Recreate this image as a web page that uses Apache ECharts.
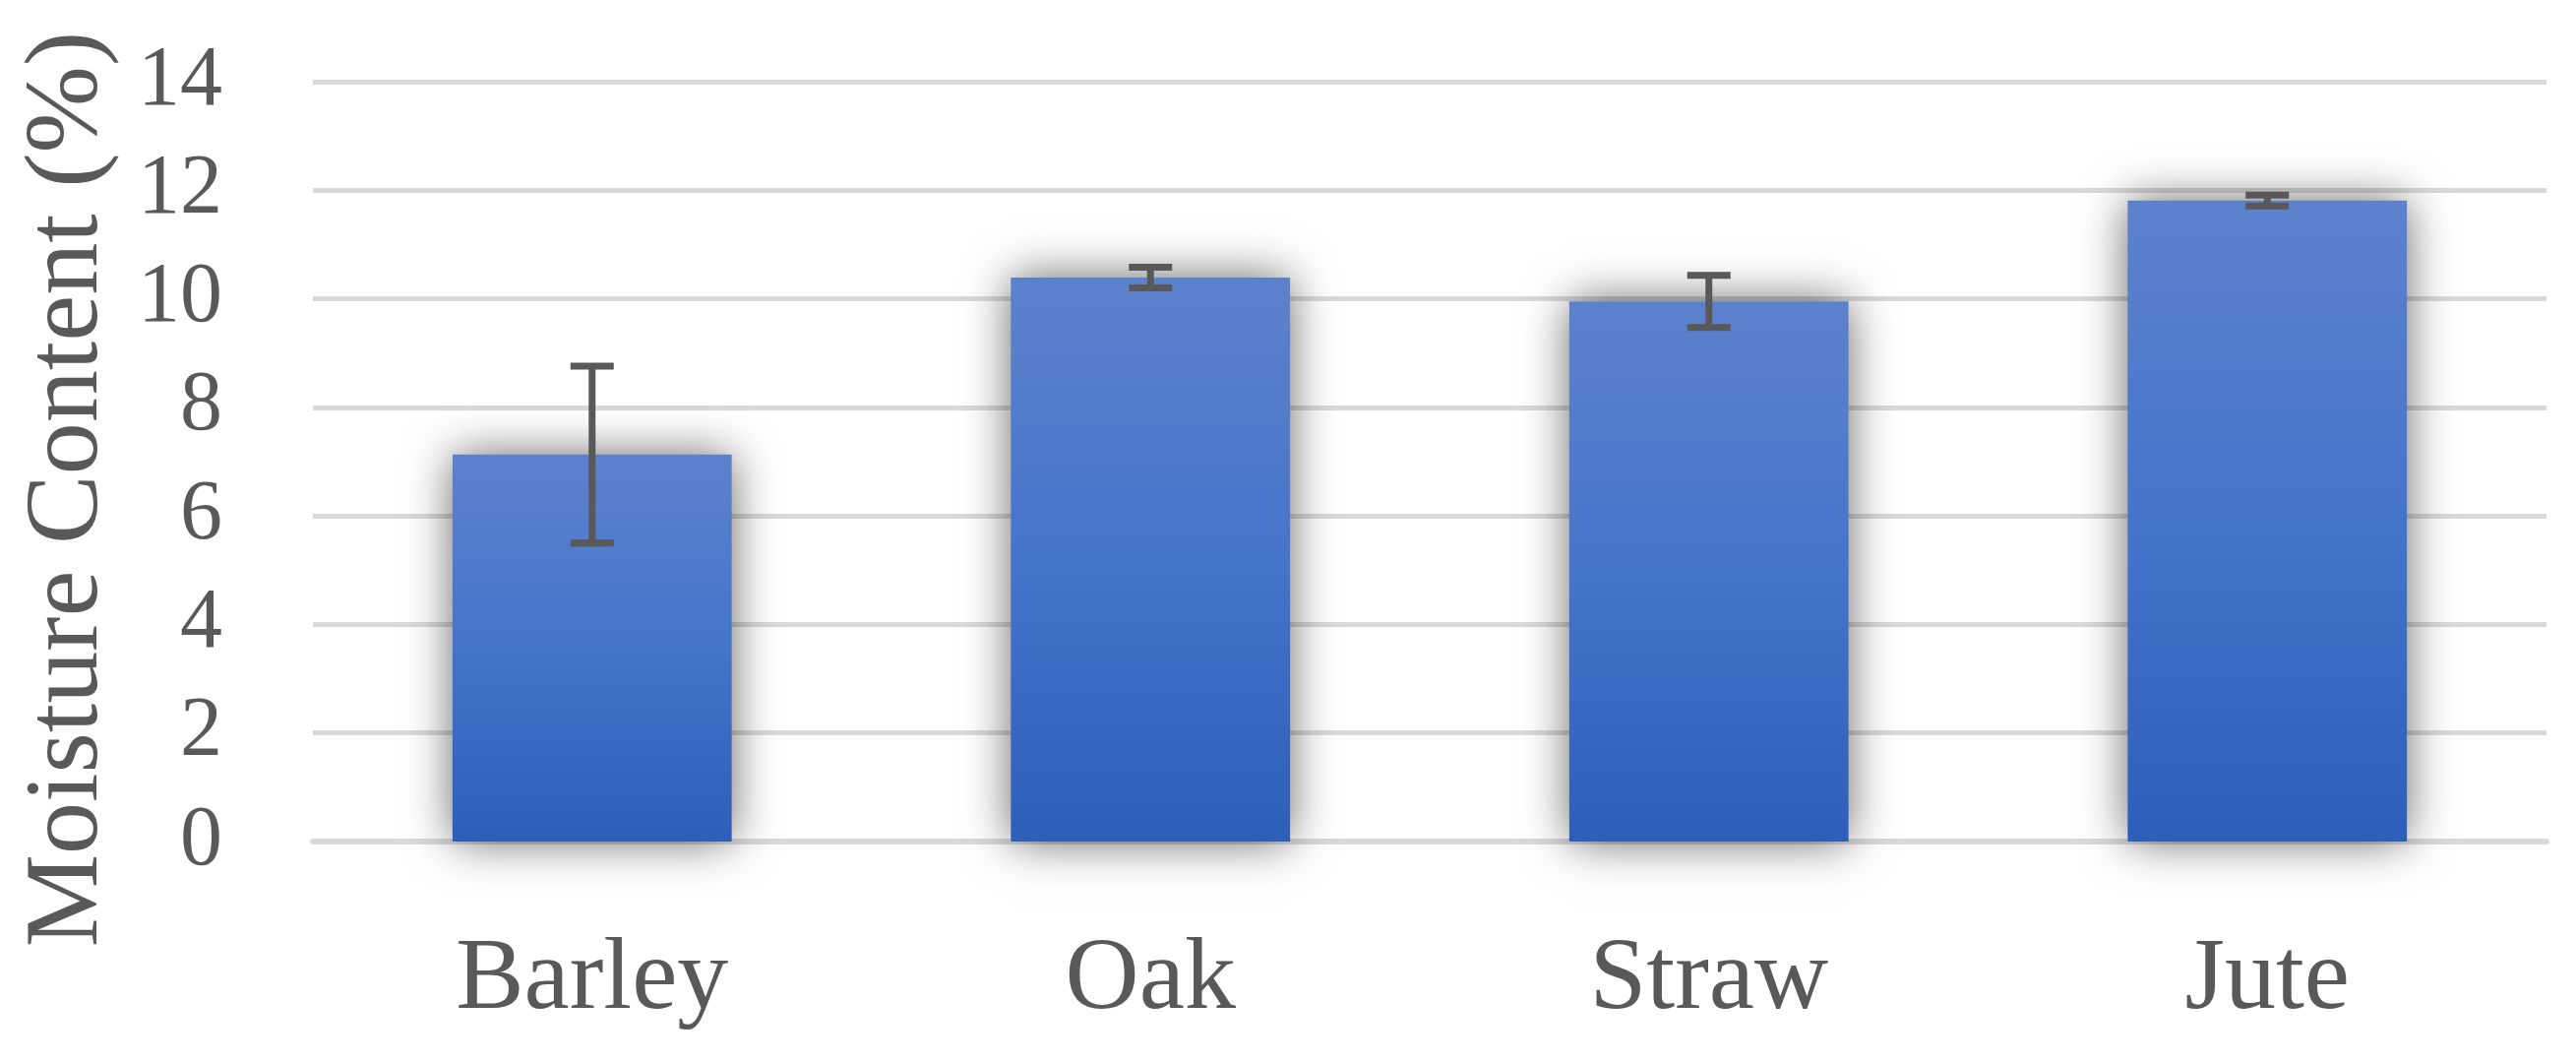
<!DOCTYPE html>
<html>
<head>
<meta charset="utf-8">
<script src="https://cdn.jsdelivr.net/npm/echarts@6/dist/echarts.min.js"></script>
<style>
html,body{margin:0;padding:0;background:#fff;}
#chart{width:2618px;height:1080px;}
</style>
</head>
<body>
<div id="chart"></div>
<script>
var categories = ['Barley', 'Oak', 'Straw', 'Jute'];
var moisture = [7.13, 10.39, 9.95, 11.81];
var errors = [1.63, 0.19, 0.48, 0.10];
var yTicks = [0, 2, 4, 6, 8, 10, 12, 14];
var yTitle = 'Moisture Content (%)';

var FONT = '"Liberation Serif", "DejaVu Serif", serif';
var TXT = '#595959';

var chart = echarts.init(document.getElementById('chart'));

var errData = categories.map(function (c, i) {
  return [i, moisture[i] - errors[i], moisture[i] + errors[i]];
});

chart.setOption({
  animation: false,
  grid: { left: 318, right: 30, top: 83, bottom: 225 },
  xAxis: {
    type: 'category',
    data: categories,
    axisLine: { show: true, lineStyle: { color: '#d9d9d9', width: 6 } },
    axisTick: { show: false },
    axisLabel: {
      color: TXT, fontFamily: FONT, fontSize: 104, lineHeight: 104, margin: 90
    }
  },
  yAxis: {
    type: 'value',
    min: yTicks[0],
    max: yTicks[yTicks.length - 1],
    interval: 2,
    axisLine: { show: false },
    axisTick: { show: false },
    splitLine: { lineStyle: { color: '#d9d9d9', width: 5 } },
    axisLabel: {
      color: TXT, fontFamily: FONT, fontSize: 86, margin: 92
    }
  },
  graphic: [{
    type: 'text',
    x: 70, y: 497,
    rotation: Math.PI / 2,
    style: {
      text: yTitle,
      fill: TXT,
      font: '106px ' + FONT,
      textAlign: 'center',
      textVerticalAlign: 'middle'
    }
  }],
  series: [{
    type: 'bar',
    data: moisture,
    barWidth: '50%',
    itemStyle: {
      color: {
        type: 'linear', x: 0, y: 0, x2: 0, y2: 1,
        colorStops: [
          { offset: 0, color: '#5d82cc' },
          { offset: 0.5, color: '#4574cb' },
          { offset: 1, color: '#2d5eb9' }
        ]
      },
      shadowBlur: 45,
      shadowColor: 'rgba(0,0,0,0.6)',
      shadowOffsetX: 0,
      shadowOffsetY: 0
    },
    z: 2
  }, {
    type: 'custom',
    data: errData,
    z: 5,
    renderItem: function (params, api) {
      var x = api.value(0);
      var lo = api.coord([x, api.value(1)]);
      var hi = api.coord([x, api.value(2)]);
      var hw = 22;
      var st = { stroke: '#595959', lineWidth: 7, fill: null };
      return {
        type: 'group',
        children: [
          { type: 'line', shape: { x1: hi[0], y1: hi[1], x2: lo[0], y2: lo[1] }, style: st },
          { type: 'line', shape: { x1: hi[0] - hw, y1: hi[1], x2: hi[0] + hw, y2: hi[1] }, style: st },
          { type: 'line', shape: { x1: lo[0] - hw, y1: lo[1], x2: lo[0] + hw, y2: lo[1] }, style: st }
        ]
      };
    }
  }]
});
</script>
</body>
</html>
